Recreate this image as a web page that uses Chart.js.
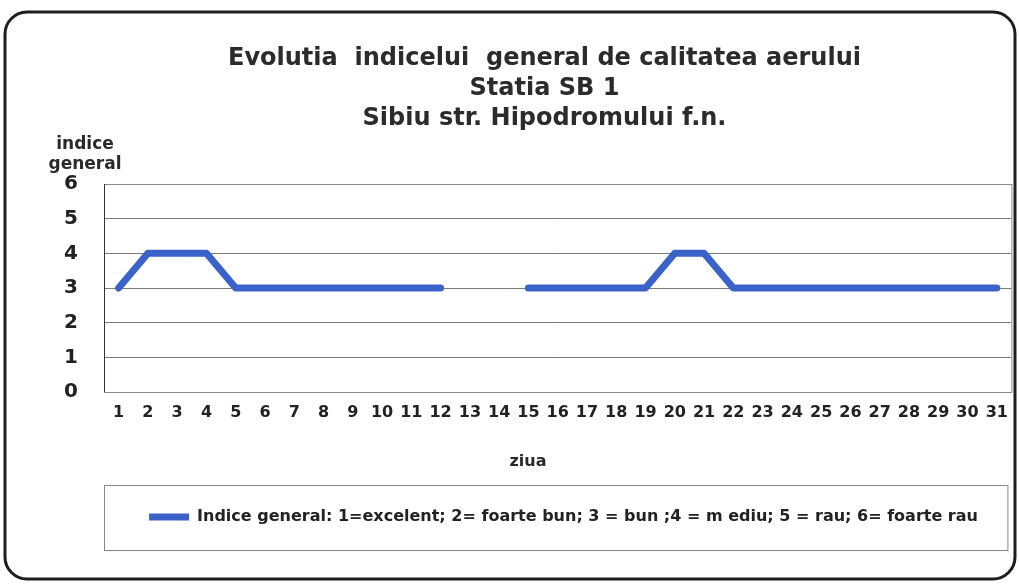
<!DOCTYPE html>
<html>
<head>
<meta charset="utf-8">
<script src="https://cdn.jsdelivr.net/npm/chart.js@4"></script>
<style>
  html, body { margin: 0; padding: 0; background: #fff; }
  #wrap { width: 1019px; height: 584px; }
</style>
</head>
<body>
<div id="wrap"><canvas id="myChart" width="1019" height="584"></canvas></div>
<script>
const days = ["1","2","3","4","5","6","7","8","9","10","11","12","13","14","15","16",
  "17","18","19","20","21","22","23","24","25","26","27","28","29","30","31"];
// 13 and 14 have no data
const indexValues = [3,4,4,4,3,3,3,3,3,3,3,3,null,null,3,3,3,3,3,4,4,3,3,3,3,3,3,3,3,3,3];
const yTicks = [0,1,2,3,4,5,6];
const titleLines = ["Evolutia  indicelui  general de calitatea aerului", "Statia SB 1", "Sibiu str. Hipodromului f.n."];
const seriesName = "Indice general: 1=excelent; 2= foarte bun; 3 = bun ;4 = m ediu; 5 = rau; 6= foarte rau";

const FONT = "'DejaVu Sans', Arial, sans-serif";

const framePlugin = {
  id: "frame",
  afterLayout(chart) {
    // title and legend sit a bit right of the canvas centre in the original
    chart.titleBlock.left += 33;
    chart.titleBlock.right += 33;
    chart.legend.left += 52;
    chart.legend.right += 52;
  },
  beforeDraw(chart) {
    const c = chart.ctx;
    c.save();
    c.fillStyle = "#fff";
    c.fillRect(0, 0, chart.width, chart.height);
    c.beginPath();
    c.roundRect(5, 12, 1010, 567, 22);
    c.lineWidth = 3;
    c.strokeStyle = "#1e1e1e";
    c.stroke();
    c.restore();
  },
  afterDraw(chart) {
    const c = chart.ctx;
    const a = chart.chartArea;
    const lg = chart.legend;
    c.save();
    // plot area outline
    c.strokeStyle = "#8a8a8a";
    c.lineWidth = 1;
    c.strokeRect(a.left + 0.5, a.top + 0.5, a.right - a.left, a.bottom - a.top);
    c.strokeStyle = "#333";
    c.beginPath();
    c.moveTo(a.left + 0.5, a.top);
    c.lineTo(a.left + 0.5, a.bottom);
    c.stroke();
    // legend box
    c.strokeStyle = "#888";
    c.strokeRect(a.left + 0.5, lg.top + 3.5, a.right - a.left - 4, 65);
    // captions
    c.fillStyle = "#2a2a2a";
    c.font = "bold 17px " + FONT;
    c.textAlign = "center";
    c.textBaseline = "middle";
    c.fillText("indice", 85, 145);
    c.fillText("general", 85, 165);
    c.font = "bold 16px " + FONT;
    c.fillText("ziua", 528, 462);
    c.restore();
  }
};

const ctx = document.getElementById("myChart").getContext("2d");

const myChart = new Chart(ctx, {
  type: "line",
  data: {
    labels: days,
    datasets: [
      {
        label: seriesName,
        data: indexValues,
        borderColor: "#3a62c8",
        backgroundColor: "#3a62c8",
        borderWidth: 7,
        borderCapStyle: "round",
        borderJoinStyle: "round",
        pointRadius: 0,
        tension: 0,
        spanGaps: false,
      },
    ],
  },
  plugins: [framePlugin],
  options: {
    responsive: false,
    animation: false,
    layout: {
      padding: { left: 10, right: 6, top: 0, bottom: 49 },
    },
    scales: {
      x: {
        offset: true,
        grid: { display: false, drawTicks: false },
        border: { display: false },
        ticks: {
          color: "#222",
          padding: 11,
          maxRotation: 0,
          autoSkip: false,
          font: { family: FONT, size: 16, weight: "bold" },
        },
        afterFit(scale) { scale.height = 90; },
      },
      y: {
        min: 0,
        max: 6,
        afterBuildTicks(scale) { scale.ticks = yTicks.map(v => ({ value: v })); },
        grid: { color: "#7a7a7a", lineWidth: 1, drawTicks: false },
        border: { display: false },
        ticks: {
          color: "#222",
          padding: 26,
          font: { family: FONT, size: 20, weight: "bold" },
        },
        afterFit(scale) { scale.width = 94; },
      },
    },
    plugins: {
      title: {
        display: true,
        text: titleLines,
        color: "#2b2b2b",
        font: { family: FONT, size: 24, weight: "bold", lineHeight: "30px" },
        padding: { top: 44, bottom: 50 },
      },
      legend: {
        display: true,
        position: "bottom",
        labels: {
          color: "#222",
          usePointStyle: true,
          pointStyle: "line",
          pointStyleWidth: 40,
          padding: 27,
          font: { family: FONT, size: 16, weight: "bold" },
        },
      },
      tooltip: { enabled: false },
    },
  },
});
</script>
</body>
</html>
